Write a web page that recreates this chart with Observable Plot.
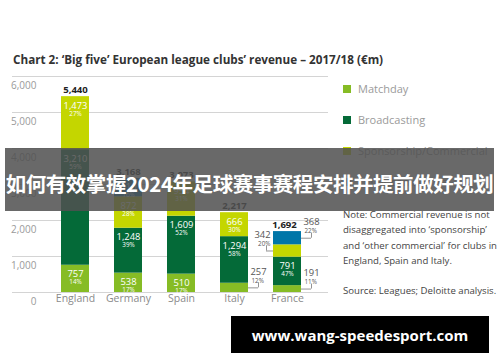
<!DOCTYPE html>
<html><head><meta charset="utf-8">
<script src="https://cdn.jsdelivr.net/npm/d3@7"></script>
<script src="https://cdn.jsdelivr.net/npm/@observablehq/plot@0.6"></script>
<style>
html,body{margin:0;padding:0;background:#fff;}
#wrap{position:relative;width:500px;height:362px;overflow:hidden;font-family:"Open Sans",sans-serif;background:#fff;}
#chart{position:absolute;left:0;top:0;}
#title{position:absolute;left:13px;top:51px;font-size:11.7px;font-weight:700;color:#333;white-space:nowrap;line-height:16px;}
.leg{position:absolute;left:343px;font-size:11px;color:#9a9a9a;display:flex;align-items:center;line-height:16px;white-space:nowrap;}
.leg i{display:inline-block;width:8px;height:8px;margin-right:7px;}
#note{position:absolute;left:343px;top:207px;font-size:9.6px;line-height:15.3px;color:#444;white-space:nowrap;}
#band{position:absolute;left:5px;top:148px;width:489px;height:63px;background:rgba(80,80,80,0.86);color:#fff;font-family:"Noto Sans CJK SC",sans-serif;font-weight:700;font-size:20.5px;letter-spacing:-0.45px;display:flex;align-items:center;justify-content:center;white-space:nowrap;padding-top:6px;box-sizing:border-box;overflow:hidden;}
#site{position:absolute;left:231px;top:316px;width:258px;height:37px;background:#000;color:#fff;font-family:"Open Sans",sans-serif;font-weight:700;font-size:15px;display:flex;align-items:center;justify-content:center;white-space:nowrap;}
</style></head>
<body>
<div id="wrap">
  <div id="chart"></div>
  <div id="title">Chart 2: ‘Big five’ European league clubs’ revenue – 2017/18 (€m)</div>
  <div id="legend"></div>
  <div id="note">Note: Commercial revenue is not<br>disaggregated into ‘sponsorship’<br>and ‘other commercial’ for clubs in<br>England, Spain and Italy.<br><br>Source: Leagues; Deloitte analysis.</div>
  <div id="band">如何有效掌握2024年足球赛事赛程安排并提前做好规划</div>
  <div id="site">www.wang-speedesport.com</div>
</div>
<script>
const countries = ["England", "Germany", "Spain", "Italy", "France"];
const series = ["Matchday", "Broadcasting", "Sponsorship/Commercial", "Other commercial"];
const colors = ["#86bc25", "#046a38", "#c4d600", "#0076a8"];
const matchday = [757, 538, 510, 257, 191];
const broadcasting = [3210, 1248, 1609, 1294, 791];
const commercial = [1473, 872, 954, 666, 342];
const otherCommercial = [0, 510, 0, 0, 368];
const matchdayPct = [14, 17, 17, 12, 11];
const broadcastingPct = [59, 39, 52, 58, 47];
const commercialPct = [27, 28, 31, 30, 20];
const otherCommercialPct = [0, 16, 0, 0, 22];
const totals = [5440, 3168, 3073, 2217, 1692];
const yTicks = [0, 1000, 2000, 3000, 4000, 5000, 6000];
// labels drawn outside the bar with a callout: [country, series, side]
const outsideLabels = [["Italy", "Matchday", "right"], ["France", "Matchday", "right"], ["France", "Sponsorship/Commercial", "left"], ["France", "Other commercial", "right"]];

const valuesBySeries = [matchday, broadcasting, commercial, otherCommercial];
const pctBySeries = [matchdayPct, broadcastingPct, commercialPct, otherCommercialPct];
const rows = [];
countries.forEach((c, i) => {
  let base = 0;
  series.forEach((s, j) => {
    const v = valuesBySeries[j][i];
    if (!v) return;
    const out = outsideLabels.find(o => o[0] === c && o[1] === s);
    rows.push({country: c, series: s, value: v, pct: pctBySeries[j][i], base, mid: base + v / 2, side: out ? out[2] : null});
    base += v;
  });
});
const totalRows = countries.map((c, i) => ({country: c, total: totals[i]}));
const fmt = d3.format(",");
const stackOpts = {x: "country", y: "value", z: "series", order: series};
const right = rows.filter(d => d.side === "right");
const left = rows.filter(d => d.side === "left");
const BW = 28;
const valueSize = 9.4, pctSize = 6.3;

const chart = Plot.plot({
  width: 335, height: 310,
  marginTop: 76, marginBottom: 18, marginLeft: 12, marginRight: 7,
  style: {fontFamily: "Open Sans", background: "transparent"},
  x: {domain: countries, paddingInner: 0.475, paddingOuter: 0.5, insetLeft: 21, label: null},
  y: {domain: [0, 6000], label: null},
  color: {domain: series, range: colors},
  marks: [
    Plot.gridY(yTicks, {stroke: "#d4d4d4", strokeOpacity: 1}),
    Plot.axisY(yTicks, {tickSize: 0, tickPadding: -24, dy: 9, tickFormat: d3.format(","), fill: "#9a9a9a", fontSize: 10, label: null}),
    Plot.axisX({tickSize: 0, tickPadding: 2, fill: "#8a8a8a", fontSize: 10.5, label: null}),
    Plot.barY(rows, {...stackOpts, fill: "series"}),
    Plot.text(rows, Plot.stackY2({...stackOpts, text: d => d.side ? "" : fmt(d.value), fill: "white", fontSize: valueSize, dy: 9})),
    Plot.text(rows, Plot.stackY2({...stackOpts, text: d => d.side ? "" : d.pct + "%", fill: "white", fontSize: pctSize, dy: 17})),
    Plot.text(totalRows.filter(d => d.country !== "France"), {x: "country", y: "total", text: d => fmt(d.total), fontWeight: "bold", fill: "#222", fontSize: 9.6, dy: -7}),
    Plot.text(totalRows.filter(d => d.country === "France"), {x: "country", y: "total", text: d => fmt(d.total), fontWeight: "bold", fill: "#222", fontSize: 9.6, dy: -7, dx: -3}),
    // outside labels
    Plot.text(right, {x: "country", y: "mid", text: d => fmt(d.value), textAnchor: "start", dx: 16, dy: -16, fill: "#555", fontSize: valueSize}),
    Plot.text(right, {x: "country", y: "mid", text: d => d.pct + "%", textAnchor: "start", dx: 17, dy: -7, fill: "#555", fontSize: pctSize}),
    Plot.text(left, {x: "country", y: "mid", text: d => fmt(d.value), textAnchor: "end", dx: -17, dy: -16, fill: "#555", fontSize: valueSize}),
    Plot.text(left, {x: "country", y: "mid", text: d => d.pct + "%", textAnchor: "end", dx: -17, dy: -7, fill: "#555", fontSize: pctSize}),
    // callouts
    Plot.ruleY(right, {x1: "country", x2: "country", y: "mid", insetLeft: BW, insetRight: -10, stroke: "#777", strokeWidth: 0.8}),
    Plot.ruleY(left, {x1: "country", x2: "country", y: "mid", insetLeft: -7, insetRight: BW, stroke: "#777", strokeWidth: 0.8}),
    Plot.ruleX(right, {x: "country", y1: "mid", y2: "mid", insetBottom: 5, dx: 24, stroke: "#777", strokeWidth: 0.8}),
    Plot.ruleX(left, {x: "country", y1: "mid", y2: "mid", insetBottom: 5, dx: -21, stroke: "#777", strokeWidth: 0.8})
  ]
});
document.getElementById("chart").appendChild(chart);

const legend = document.getElementById("legend");
const legendTops = [81, 112, 143, 174];
series.forEach((s, j) => {
  const el = document.createElement("div");
  el.className = "leg";
  el.style.top = legendTops[j] + "px";
  el.innerHTML = `<i style="background:${colors[j]}"></i>${s}`;
  legend.appendChild(el);
});
</script>
</body></html>
